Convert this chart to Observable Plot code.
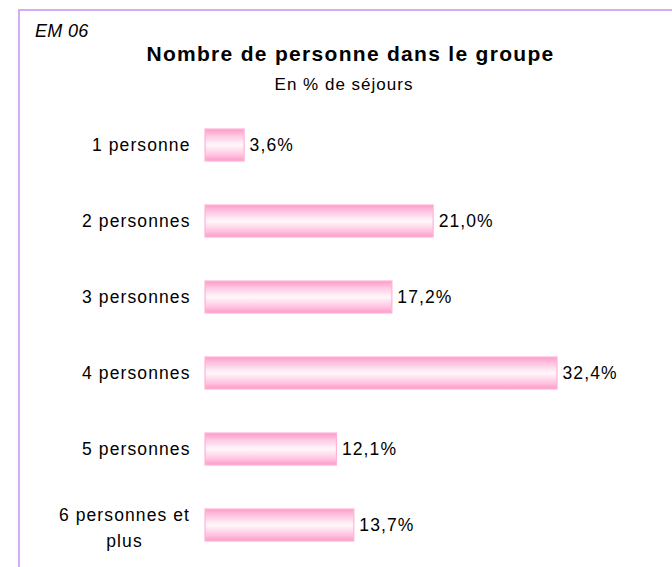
<!DOCTYPE html>
<html>
<head>
<meta charset="utf-8">
<script src="https://cdn.jsdelivr.net/npm/d3@7"></script>
<script src="https://cdn.jsdelivr.net/npm/@observablehq/plot@0.6"></script>
<style>
  html, body { margin: 0; padding: 0; background: #fff; }
  body { width: 672px; height: 567px; overflow: hidden; position: relative; font-family: "Liberation Sans", Arial, sans-serif; color: #000; }
  #frame { position: absolute; left: 18px; top: 9px; width: 700px; height: 600px; border-left: 2px solid #d6acf6; border-top: 2px solid #d6acf6; box-sizing: border-box; }
  #code { position: absolute; left: 35px; top: 21px; font-style: italic; font-size: 18px; letter-spacing: 0.3px; line-height: 20px; }
  #title { position: absolute; left: 0; width: 701px; top: 43px; text-align: center; font-weight: bold; font-size: 21px; letter-spacing: 1.3px; line-height: 22px; }
  #subtitle { position: absolute; left: 0; width: 688px; top: 76px; text-align: center; font-size: 17px; letter-spacing: 1px; line-height: 18px; }
  #chart { position: absolute; left: 0; top: 0; }
</style>
</head>
<body>
<div id="frame"></div>
<div id="chart"></div>
<div id="code">EM 06</div>
<div id="title">Nombre de personne dans le groupe</div>
<div id="subtitle">En % de séjours</div>
<script>
const categories = ["1 personne", "2 personnes", "3 personnes", "4 personnes", "5 personnes", "6 personnes et plus"];
const labels = ["1 personne", "2 personnes", "3 personnes", "4 personnes", "5 personnes", "6 personnes et\nplus"];
const values = [3.6, 21.0, 17.2, 32.4, 12.1, 13.7];

const data = categories.map((c, i) => ({cat: c, label: labels[i], value: values[i]}));
const fmt = v => v.toFixed(1).replace(".", ",") + "%";

const plot = Plot.plot({
  width: 672,
  height: 567,
  marginLeft: 205,
  marginRight: 115,
  marginTop: 111,
  marginBottom: 9,
  style: {fontFamily: "Liberation Sans, Arial, sans-serif", fontSize: "17.5px", background: "transparent", overflow: "visible"},
  x: {domain: [0, 32.4], axis: null},
  y: {domain: categories, axis: null, paddingInner: 0.585, paddingOuter: 0.2},
  marks: [
    Plot.barX(data, {x: "value", y: "cat", fill: "url(#pinkgrad)", stroke: "#ffb3d8", strokeWidth: 1.2}),
    Plot.text(data, {x: "value", y: "cat", text: d => fmt(d.value), textAnchor: "start", dx: 5, fontSize: 17.5, fill: "#000"}),
    Plot.text(data.slice(0, 5), {x: 0, y: "cat", text: "label", textAnchor: "end", dx: -15, fontSize: 17.5, fill: "#000"}),
    Plot.text(data.slice(5), {x: 0, y: "cat", text: "label", textAnchor: "middle", dx: -81, fontSize: 17.5, lineHeight: 1.5, fill: "#000"})
  ]
});

const svg = d3.select(plot);
svg.selectAll("text").style("letter-spacing", "1.1px");
const grad = svg.insert("defs", ":first-child").append("linearGradient")
  .attr("id", "pinkgrad").attr("x1", 0).attr("y1", 0).attr("x2", 0).attr("y2", 1);
[[0, "#ff9ac9"], [0.2, "#ffc6e1"], [0.5, "#fff8fb"], [0.8, "#ffc6e1"], [1, "#ff9ac9"]]
  .forEach(([o, c]) => grad.append("stop").attr("offset", o).attr("stop-color", c));

document.getElementById("chart").appendChild(plot);
</script>
</body>
</html>
